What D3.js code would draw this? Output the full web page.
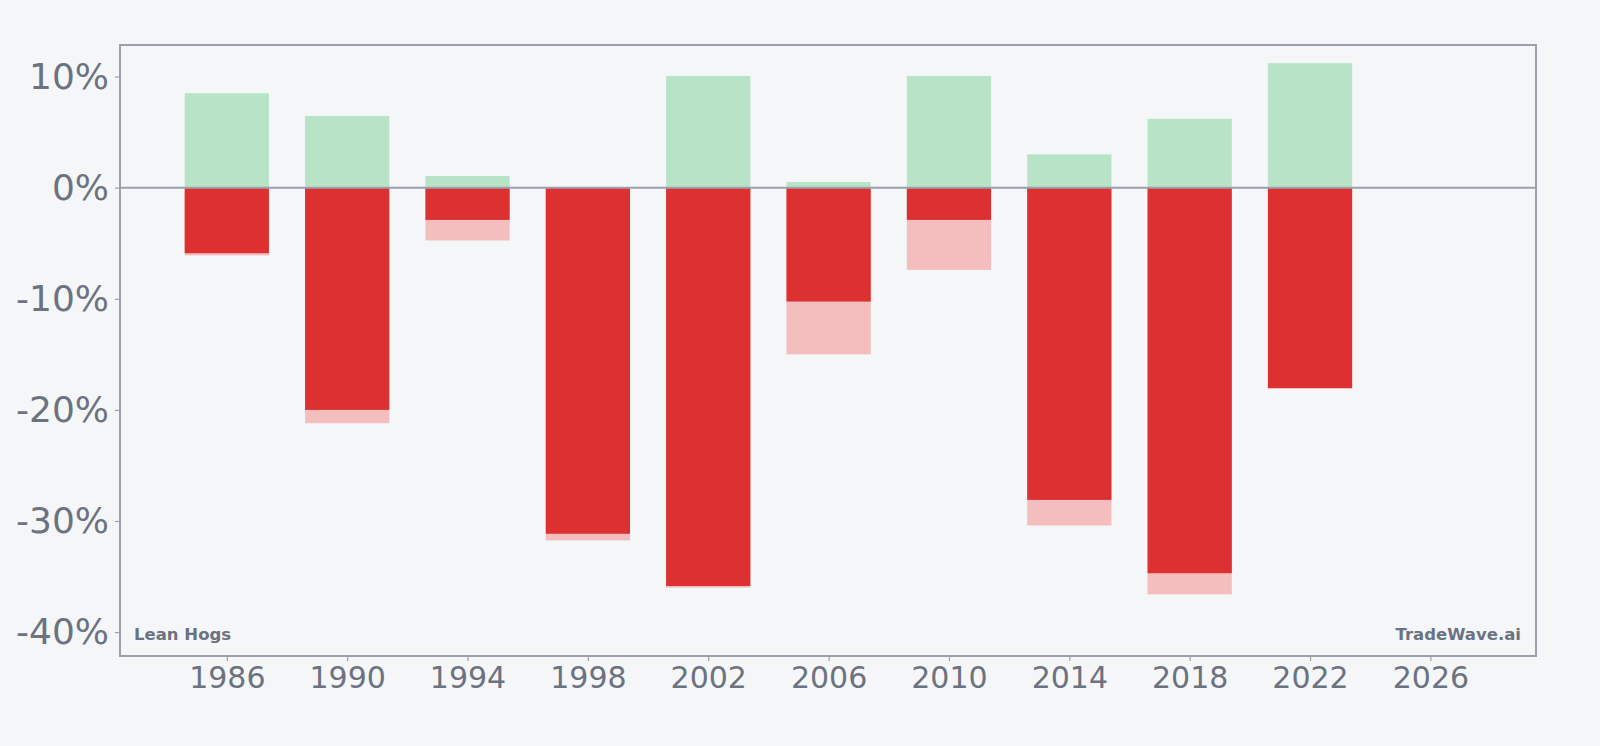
<!DOCTYPE html>
<html>
<head>
<meta charset="utf-8">
<script src="https://cdn.jsdelivr.net/npm/d3@7"></script>
<style>
  html, body { margin: 0; padding: 0; background: #f5f6f8; }
  svg { display: block; }
</style>
</head>
<body>
<svg id="chart" width="1600" height="746"></svg>
<script>
// ---- Data ----
const years = [1986, 1990, 1994, 1998, 2002, 2006, 2010, 2014, 2018, 2022];
const gains = [8.5, 6.45, 1.05, 0, 10.05, 0.5, 10.05, 3.0, 6.2, 11.2];            // green, above zero
const closes = [-5.9, -20.0, -2.9, -31.15, -35.85, -10.25, -2.9, -28.1, -34.7, -18.05]; // solid red
const lows = [-6.1, -21.2, -4.75, -31.75, -36.0, -15.0, -7.4, -30.4, -36.6, -18.05];   // light red
const yTicks = [10, 0, -10, -20, -30, -40];
const xTicks = [1986, 1990, 1994, 1998, 2002, 2006, 2010, 2014, 2018, 2022, 2026];
const leftLabel = "Lean Hogs";
const rightLabel = "TradeWave.ai";

// ---- Layout ----
const W = 1600, H = 746;
const plot = { left: 120, right: 1536, top: 45, bottom: 656 };
const textColor = "#6b7280";
const frameColor = "#9ca0ac";
const bg = "#f5f6f8";

const svg = d3.select("#chart");
svg.append("rect").attr("width", W).attr("height", H).attr("fill", bg);

const x = d3.scaleLinear().domain([1982.45, 2029.51]).range([plot.left, plot.right]);
const y = d3.scaleLinear().domain([-42.15, 12.84]).range([plot.bottom, plot.top]);
const halfW = 1.4;

const rows = years.map((yr, i) => ({ yr, g: gains[i], c: closes[i], l: lows[i] }));

const g = svg.append("g");

// light red (max drawdown)
g.selectAll("rect.low").data(rows).join("rect")
  .attr("x", d => x(d.yr - halfW))
  .attr("width", d => x(d.yr + halfW) - x(d.yr - halfW))
  .attr("y", y(0))
  .attr("height", d => y(d.l) - y(0))
  .attr("fill", "#f4bebe");

// solid red
g.selectAll("rect.close").data(rows).join("rect")
  .attr("x", d => x(d.yr - halfW))
  .attr("width", d => x(d.yr + halfW) - x(d.yr - halfW))
  .attr("y", y(0))
  .attr("height", d => y(d.c) - y(0))
  .attr("fill", "#dc3031");

// green
g.selectAll("rect.gain").data(rows.filter(d => d.g > 0)).join("rect")
  .attr("x", d => x(d.yr - halfW))
  .attr("width", d => x(d.yr + halfW) - x(d.yr - halfW))
  .attr("y", d => y(d.g))
  .attr("height", d => y(0) - y(d.g))
  .attr("fill", "#b7e4c7");

// zero line
svg.append("line")
  .attr("x1", plot.left).attr("x2", plot.right)
  .attr("y1", y(0)).attr("y2", y(0))
  .attr("stroke", frameColor).attr("stroke-width", 2);

// frame
svg.append("rect")
  .attr("x", plot.left).attr("y", plot.top)
  .attr("width", plot.right - plot.left).attr("height", plot.bottom - plot.top)
  .attr("fill", "none").attr("stroke", frameColor).attr("stroke-width", 2);

// Y axis
const yAxis = d3.axisLeft(y).tickValues(yTicks).tickSize(5).tickPadding(6)
  .tickFormat(d => d + "%");
const ya = svg.append("g").attr("transform", `translate(${plot.left},0)`).call(yAxis);
ya.select(".domain").remove();
ya.selectAll(".tick line").attr("stroke", frameColor).attr("stroke-width", 1.2);
ya.selectAll(".tick text")
  .attr("fill", textColor)
  .style("font-family", "'DejaVu Sans', sans-serif")
  .style("font-size", "36px");

// X axis
const xAxis = d3.axisBottom(x).tickValues(xTicks).tickSize(5).tickPadding(6)
  .tickFormat(d3.format("d"));
const xa = svg.append("g").attr("transform", `translate(0,${plot.bottom})`).call(xAxis);
xa.select(".domain").remove();
xa.selectAll(".tick line").attr("stroke", frameColor).attr("stroke-width", 1.2);
xa.selectAll(".tick text")
  .attr("fill", textColor)
  .style("font-family", "'DejaVu Sans', sans-serif")
  .style("font-size", "30px");

// corner labels
svg.append("text")
  .attr("x", 134).attr("y", 640)
  .attr("fill", textColor)
  .style("font-family", "'DejaVu Sans', sans-serif")
  .style("font-weight", "bold")
  .style("font-size", "16.5px")
  .text(leftLabel);

svg.append("text")
  .attr("x", 1521).attr("y", 640)
  .attr("text-anchor", "end")
  .attr("fill", textColor)
  .style("font-family", "'DejaVu Sans', sans-serif")
  .style("font-weight", "bold")
  .style("font-size", "16.5px")
  .text(rightLabel);
</script>
</body>
</html>
